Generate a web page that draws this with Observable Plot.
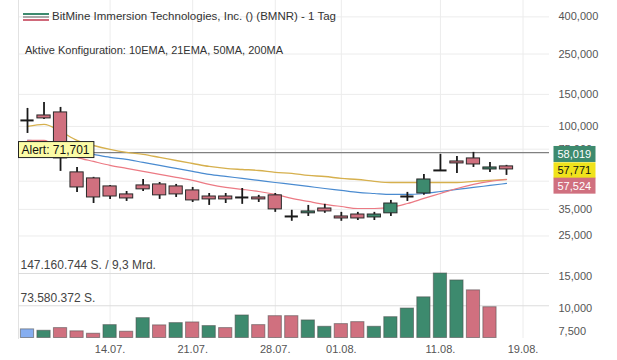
<!DOCTYPE html>
<html><head><meta charset="utf-8">
<script src="https://cdn.jsdelivr.net/npm/d3@7"></script>
<script src="https://cdn.jsdelivr.net/npm/@observablehq/plot@0.6"></script>
<style>
html,body{margin:0;padding:0;background:#fff;}
#wrap{position:relative;width:617px;height:360px;overflow:hidden;font-family:"Liberation Sans",Arial,sans-serif;}
#wrap svg{position:absolute;left:0;top:0;}
.title{position:absolute;left:52px;top:9px;font-size:11.5px;line-height:14px;color:#333;white-space:nowrap;z-index:3;}
.sub{position:absolute;left:25px;top:43px;font-size:11px;line-height:14px;color:#333;white-space:nowrap;z-index:3;}
.icon{position:absolute;left:23px;top:13px;width:26px;z-index:3;}
.icon div{height:2px;margin-bottom:1px;}
</style></head>
<body><div id="wrap">
<div class="icon"><div style="background:#3d8a6e"></div><div style="background:#a9a9a9"></div><div style="background:#d0697a"></div></div>
<div class="title">BitMine Immersion Technologies, Inc. () (BMNR) - 1 Tag</div>
<div class="sub">Aktive Konfiguration: 10EMA, 21EMA, 50MA, 200MA</div>
</div>
<script>
// ---- data ----
const openP  = [107900,114900,119400,55900,51800,46800,42300,47400,48000,46800,44500,41200,41200,40700,40700,41800,32000,33300,35400,32000,32800,31600,33300,41200,42800,57300,64200,66700,58000,60300];
const highP  = [125600,135500,127200,59500,52500,47400,43900,51100,49200,48000,46200,42800,42800,45600,41800,42800,34600,36800,37300,33700,33700,33700,39200,43400,54500,70200,68400,72000,63400,61100];
const lowP   = [91500,109300,56600,43400,37700,39700,38700,43900,39700,40700,38200,36800,37700,37300,38200,33700,30100,32000,33300,30100,30400,30400,32000,38700,41800,56600,55200,59500,55900,53800];
const closeP = [107900,110700,66700,46200,40700,41200,40200,45100,41800,42300,39200,39700,39700,40700,39700,35000,32000,34100,34100,31200,31200,32800,37700,41200,51100,57300,62600,61800,59500,58019];
const ema10  = [83800,83800,73800,67600,64200,61100,58800,56600,54500,52500,50500,48000,46200,45100,43900,42300,40200,38700,37300,36300,35400,35400,35900,37700,40200,42800,45600,48000,49900,51100];
const ema21  = [83800,82700,77600,72900,70200,67600,65900,63400,61100,58800,56600,54500,53100,51800,50500,49200,48000,46800,45600,44500,43400,42800,42300,42300,42800,43900,45100,46200,47400,48600];
const ma50   = [100000,102600,93900,83800,78600,74800,72000,70200,67600,65000,62600,60300,58800,58000,57300,55900,55200,53800,53100,51800,51100,49900,49200,49200,49200,49200,49200,49900,50500,51100];
const volume = [19700000,16500000,22600000,15200000,9700000,29400000,14300000,45300000,28800000,34000000,35500000,27200000,22600000,51400000,29400000,49800000,49800000,40100000,25600000,31700000,36200000,25600000,47500000,67200000,92800000,147160744,131300000,108700000,70200000];
const volDir = ["none","up","down","down","down","up","down","up","down","up","down","up","down","up","down","down","down","up","up","down","down","up","up","up","up","up","up","down","down"];
const priceTicks = [400000,250000,150000,100000,75000,35000,25000,15000,10000,7500];
const gridTicks = [400000,250000,150000,100000,75000,50000,35000,25000];
const xTicks = [5,10,15,19,25,30];
const xLabels = ["14.07.","21.07.","28.07.","01.08.","11.08.","19.08."];
const alertLevel = 71701;
const lastVals = [58019, 57771, 57524];
const volRefs = [147160744, 73580372];
const volRefLabels = ["147.160.744 S. / 9,3 Mrd.", "73.580.372 S."];

// ---- derived ----
const idx = d3.range(closeP.length);
const candles = idx.map(i => ({i, o: openP[i], h: highP[i], l: lowP[i], c: closeP[i]}));
const dir = d => d.c > d.o ? "up" : d.c < d.o ? "down" : "flat";
const volRows = volume.map((v, i) => ({i, v, d: volDir[i]}));
const HW = 0.4;
const fmt = d3.format(",");
const colorScale = {domain: ["up","down","flat","none"], range: ["#3d8a6e","#d0707f","#222222","#86aef0"]};
const font = "Liberation Sans, Arial, sans-serif";
const xScale = {domain: [0, 29], range: [27, 506], axis: null};

const main = Plot.plot({
  width: 617, height: 360,
  marginLeft: 18, marginRight: 68, marginTop: 0, marginBottom: 22,
  style: {fontFamily: font, background: "transparent", overflow: "visible"},
  x: xScale,
  y: {type: "log", domain: [6829, 492300], range: [338, 0], axis: null},
  color: colorScale,
  marks: [
    Plot.gridY(gridTicks, {stroke: "#ececec", strokeOpacity: 1}),
    Plot.gridX(xTicks, {stroke: "#ececec", strokeOpacity: 1}),
    Plot.frame({anchor: "left", stroke: "#e2e2e2"}),
    Plot.ruleY([alertLevel], {stroke: "#808080", strokeWidth: 1.2}),
    Plot.line(idx, {x: d => d, y: d => ma50[d], stroke: "#d6b04e", strokeWidth: 1.4, curve: "monotone-x"}),
    Plot.line(idx, {x: d => d, y: d => ema21[d], stroke: "#4a8bd0", strokeWidth: 1.2, curve: "monotone-x"}),
    Plot.line(idx, {x: d => d, y: d => ema10[d], stroke: "#ec7a84", strokeWidth: 1.2, curve: "monotone-x"}),
    Plot.ruleX(candles, {x: "i", y1: "l", y2: "h", stroke: "#1a1a1a", strokeWidth: 1.8}),
    Plot.rect(candles.filter(d => d.o !== d.c), {x1: d => d.i - HW, x2: d => d.i + HW, y1: "o", y2: "c", fill: dir, stroke: "#2a2a2a", strokeWidth: 1}),
    Plot.ruleY(candles.filter(d => d.o === d.c), {y: "c", x1: d => d.i - HW, x2: d => d.i + HW, stroke: "#1a1a1a", strokeWidth: 2}),
    Plot.text(priceTicks, {y: d => d, frameAnchor: "right", dx: 9, text: d => fmt(d), textAnchor: "start", fontSize: 11, fill: "#555"}),
    Plot.axisX(xTicks, {anchor: "bottom", tickSize: 0, tickPadding: 7, tickFormat: d => xLabels[xTicks.indexOf(d)], fontSize: 11, fill: "#555", label: null}),
    Plot.text([alertLevel], {y: d => d, frameAnchor: "left", dx: 3, dy: -3, text: d => "Alert: " + fmt(d), textAnchor: "start", fontSize: 12, fill: "#111"}),
    Plot.text([lastVals[0]], {y: d => d, frameAnchor: "right", dx: 8, dy: -15, text: d => fmt(d), textAnchor: "start", fontSize: 11, fill: "#fff"}),
    Plot.text([lastVals[1]], {y: d => d, frameAnchor: "right", dx: 8, dy: 1, text: d => fmt(d), textAnchor: "start", fontSize: 11, fill: "#111"}),
    Plot.text([lastVals[2]], {y: d => d, frameAnchor: "right", dx: 8, dy: 16, text: d => fmt(d), textAnchor: "start", fontSize: 11, fill: "#fff"})
  ]
});

const vol = Plot.plot({
  width: 617, height: 360,
  marginLeft: 18, marginRight: 68, marginTop: 0, marginBottom: 22,
  style: {fontFamily: font, background: "transparent", overflow: "visible"},
  x: xScale,
  y: {domain: [0, volRefs[0]], range: [337.5, 273], axis: null},
  color: colorScale,
  marks: [
    Plot.ruleY(volRefs, {stroke: "#dcdcdc"}),
    Plot.text(volRefs, {y: d => d, frameAnchor: "left", dx: 2, dy: -8, text: (d, i) => volRefLabels[i], textAnchor: "start", fontSize: 12, fill: "#444"}),
    Plot.rectY(volRows, {x1: d => d.i - HW, x2: d => d.i + HW, y: "v", fill: "d", stroke: "#4a4a4a", strokeOpacity: 0.55, strokeWidth: 1})
  ]
});

const wrap = document.getElementById("wrap");
wrap.appendChild(main);
wrap.appendChild(vol);

// label boxes behind texts
const boxes = {};
boxes["Alert: " + fmt(alertLevel)] = {padL: 3, padR: 4, fill: "#fbfba6", stroke: "#222"};
boxes[fmt(lastVals[0])] = {padL: 4, w: 42, fill: "#3d8a6e", stroke: "none"};
boxes[fmt(lastVals[1])] = {padL: 4, w: 42, fill: "#f0e31c", stroke: "none"};
boxes[fmt(lastVals[2])] = {padL: 4, w: 42, fill: "#d0707f", stroke: "none"};
main.querySelectorAll("text").forEach(t => {
  const o = boxes[t.textContent];
  if (!o) return;
  const b = t.getBBox();
  const r = document.createElementNS("http://www.w3.org/2000/svg", "rect");
  const h = 16;
  r.setAttribute("x", b.x - o.padL);
  r.setAttribute("y", b.y + b.height / 2 - h / 2);
  r.setAttribute("width", o.w || (b.width + o.padL + o.padR));
  r.setAttribute("height", h);
  r.setAttribute("fill", o.fill);
  r.setAttribute("stroke", o.stroke);
  if (t.getAttribute("transform")) r.setAttribute("transform", t.getAttribute("transform"));
  t.parentNode.insertBefore(r, t);
});
</script>
</body></html>
